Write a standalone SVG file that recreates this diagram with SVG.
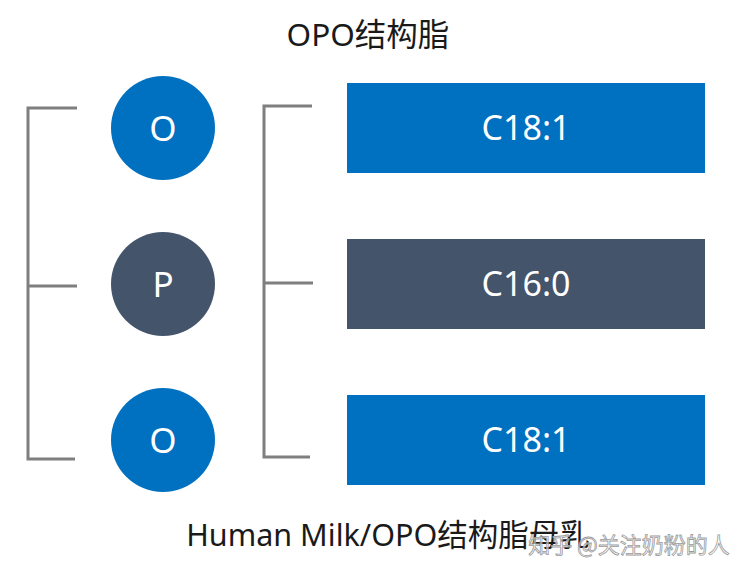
<svg xmlns="http://www.w3.org/2000/svg" width="750" height="575" viewBox="0 0 750 575">
<style>
.t{font-family:"Noto Sans","Noto Sans CJK SC",sans-serif;fill:#1a1a1a;text-anchor:middle}
.w{font-family:"Noto Sans","Noto Sans CJK SC",sans-serif;fill:#ffffff;text-anchor:middle;dominant-baseline:central}
.ln{stroke:#7f7f7f;stroke-width:3;fill:none}
.blue{fill:#0070c0}
.dark{fill:#44546a}
</style>
<rect width="750" height="575" fill="#ffffff"/>
<text class="t" x="368" y="46" font-size="31.5">OPO结构脂</text>
<g id="connectors">
<path class="ln" d="M77,108 H28 V459 H75 M28,286 H77"/>
<path class="ln" d="M312,106 H264 V457 H310 M264,283 H313"/>
</g>
<g id="o1"><circle class="blue" cx="163" cy="128" r="52"/><text class="w" x="163" y="127" font-size="35">O</text></g>
<g id="p"><circle class="dark" cx="163" cy="284" r="52"/><text class="w" x="163" y="283" font-size="35">P</text></g>
<g id="o2"><circle class="blue" cx="163" cy="440" r="52"/><text class="w" x="163" y="439" font-size="35">O</text></g>
<g id="r1"><rect class="blue" x="347" y="83" width="358" height="90"/><text class="w" x="526" y="127" font-size="34">C18:1</text></g>
<g id="r2"><rect class="dark" x="347" y="239" width="358" height="90"/><text class="w" x="526" y="283" font-size="34">C16:0</text></g>
<g id="r3"><rect class="blue" x="347" y="395" width="358" height="90"/><text class="w" x="526" y="439" font-size="34">C18:1</text></g>
<text class="t" x="388" y="546" font-size="30.5">Human Milk/OPO结构脂母乳</text>
<text x="629" y="553" font-size="22" text-anchor="middle" font-family="Noto Sans CJK SC, sans-serif" fill="#ffffff" fill-opacity="0.6" stroke="#9a9a9a" stroke-width="0.8">知乎 @关注奶粉的人</text>
</svg>
